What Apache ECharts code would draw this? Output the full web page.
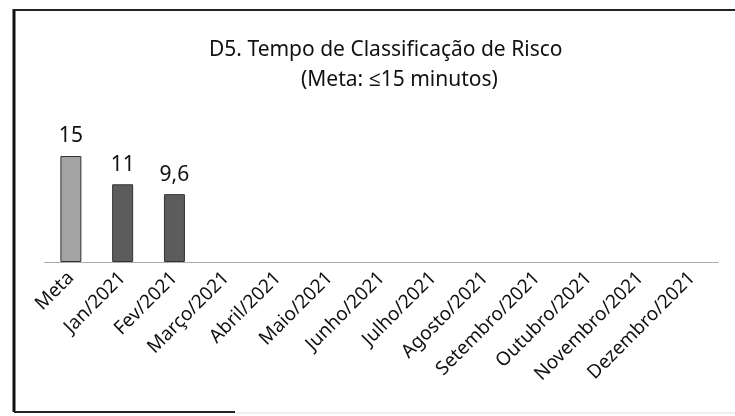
<!DOCTYPE html>
<html>
<head>
<meta charset="utf-8">
<script src="https://cdn.jsdelivr.net/npm/echarts@6/dist/echarts.min.js"></script>
<style>
  html, body { margin: 0; padding: 0; background: #fff; }
  #chart { width: 735px; height: 416px; }
</style>
</head>
<body>
<div id="chart"></div>
<script>
// categorias e valores
const categories = ["Meta", "Jan/2021", "Fev/2021", "Março/2021", "Abril/2021", "Maio/2021",
  "Junho/2021", "Julho/2021", "Agosto/2021", "Setembro/2021", "Outubro/2021",
  "Novembro/2021", "Dezembro/2021"];
const values = [15, 11, 9.6, null, null, null, null, null, null, null, null, null, null];
const barColors = ["#a3a3a3", "#5c5c5c", "#5c5c5c"];

const font = "'Noto Sans', 'Open Sans', sans-serif";
const chart = echarts.init(document.getElementById("chart"));

const option = {
  animation: false,
  title: [
    {
      text: "D5. Tempo de Classificação de Risco",
      left: 204,
      top: 35,
      textStyle: { fontFamily: font, fontSize: 21, fontWeight: "normal", color: "#111" },
    },
    {
      text: "(Meta: ≤15 minutos)",
      left: 296,
      top: 65,
      textStyle: { fontFamily: font, fontSize: 21, fontWeight: "normal", color: "#111" },
    },
  ],
  grid: { left: 45, right: 17, top: 156, bottom: 154 },
  xAxis: {
    type: "category",
    data: categories,
    axisLine: { lineStyle: { color: "#9a9a9a", type: "dotted", width: 1 } },
    axisTick: { show: false },
    axisLabel: {
      rotate: 45,
      interval: 0,
      margin: 13,
      fontFamily: font,
      fontSize: 19,
      color: "#111",
    },
  },
  yAxis: {
    type: "value",
    min: 0,
    max: 15,
    show: false,
  },
  series: [
    {
      type: "bar",
      barWidth: 21,
      data: values.map((v, i) => ({
        value: v,
        itemStyle: { color: barColors[i] || "#5c5c5c", borderColor: "#333", borderWidth: 1 },
      })),
      label: {
        show: true,
        position: "top",
        distance: 9,
        fontFamily: font,
        fontSize: 21,
        color: "#111",
        formatter: (p) => (p.value == null ? "" : String(p.value).replace(".", ",")),
      },
    },
  ],
  graphic: [
    // moldura digitalizada
    { type: "line", shape: { x1: 14, y1: 9, x2: 14, y2: 412 }, style: { stroke: "#111", lineWidth: 3 } },
    { type: "line", shape: { x1: 14, y1: 10, x2: 735, y2: 10 }, style: { stroke: "#222", lineWidth: 2 } },
    { type: "line", shape: { x1: 14, y1: 412, x2: 235, y2: 412 }, style: { stroke: "#222", lineWidth: 2 } },
    { type: "line", shape: { x1: 235, y1: 413, x2: 735, y2: 413 }, style: { stroke: "#ddd", lineWidth: 1 } },
  ],
};

chart.setOption(option);
window.addEventListener("resize", () => chart.resize());
</script>
</body>
</html>
